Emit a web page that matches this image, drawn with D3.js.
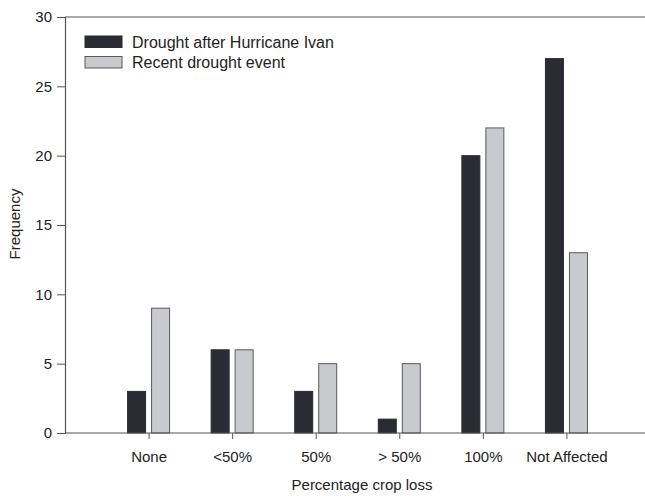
<!DOCTYPE html>
<html>
<head>
<meta charset="utf-8">
<script src="https://cdn.jsdelivr.net/npm/d3@7"></script>
<style>
  html, body { margin: 0; padding: 0; background: #fff; overflow: hidden; }
  svg { display: block; overflow: hidden; }
  text { font-family: "Liberation Sans", Arial, sans-serif; fill: #222; }
</style>
</head>
<body>
<svg id="chart" width="645" height="496"></svg>
<script>
// Crop loss categories and frequencies for the two drought events
const categories = ["None", "<50%", "50%", "> 50%", "100%", "Not Affected"];
const seriesNames = ["Drought after Hurricane Ivan", "Recent drought event"];
const droughtIvan = [3, 6, 3, 1, 20, 27];
const recentDrought = [9, 6, 5, 5, 22, 13];
const yTicks = [0, 5, 10, 15, 20, 25, 30];

const seriesValues = [droughtIvan, recentDrought];
const fills = ["#2b2b33", "#c9cacd"];
const strokes = ["#2b2b33", "#5a5a5a"];

const svg = d3.select("#chart");
const plot = { left: 65, right: 650, top: 17, bottom: 433 };

const x = d3.scalePoint().domain(categories).range([plot.left, plot.right]).padding(1);
const inner = d3.scaleBand().domain(seriesNames).range([-21, 21]).paddingInner(0.25);
const y = d3.scaleLinear().domain([0, 30]).range([plot.bottom, plot.top]);

// Top edge of the plot frame, running off the right side of the view
svg.append("line")
  .attr("x1", plot.left).attr("x2", 700)
  .attr("y1", plot.top).attr("y2", plot.top)
  .attr("stroke", "#555").attr("stroke-width", 1.2);

// Bars
const rows = categories.map((c, i) => ({ cat: c, vals: seriesValues.map((s, k) => ({ k, name: seriesNames[k], v: s[i] })) }));
const groups = svg.append("g").selectAll("g").data(rows).join("g")
  .attr("transform", d => `translate(${x(d.cat)},0)`);
groups.selectAll("rect").data(d => d.vals).join("rect")
  .attr("x", d => inner(d.name))
  .attr("y", d => y(d.v))
  .attr("width", inner.bandwidth())
  .attr("height", d => y(0) - y(d.v))
  .attr("fill", d => fills[d.k])
  .attr("stroke", d => strokes[d.k])
  .attr("stroke-width", 1);

// Y axis
const yAxis = svg.append("g").attr("transform", `translate(${plot.left},0)`)
  .call(d3.axisLeft(y).tickValues(yTicks).tickSize(8).tickPadding(5).tickFormat(d3.format("d")));
yAxis.select(".domain").attr("stroke", "#555").attr("stroke-width", 1.2);
yAxis.selectAll(".tick line").attr("stroke", "#555");
yAxis.selectAll(".tick text").attr("font-size", 15).attr("fill", "#222")
  .style("font-family", '"Liberation Sans", Arial, sans-serif');

// X axis (baseline also runs off the right side)
const xAxis = svg.append("g").attr("transform", `translate(0,${plot.bottom})`)
  .call(d3.axisBottom(x).tickSize(6).tickPadding(12));
xAxis.select(".domain").remove();
xAxis.append("line").attr("x1", plot.left).attr("x2", 700)
  .attr("stroke", "#555").attr("stroke-width", 1.2);
xAxis.selectAll(".tick line").attr("stroke", "#555");
xAxis.selectAll(".tick text").attr("font-size", 15).attr("fill", "#222")
  .style("font-family", '"Liberation Sans", Arial, sans-serif');

// Axis titles
svg.append("text")
  .attr("x", 362).attr("y", 490)
  .attr("text-anchor", "middle").attr("font-size", 15)
  .text("Percentage crop loss");
svg.append("text")
  .attr("transform", "translate(20,224) rotate(-90)")
  .attr("text-anchor", "middle").attr("font-size", 15)
  .text("Frequency");

// Legend
const legend = svg.append("g").attr("transform", "translate(85,36)");
seriesNames.forEach((name, k) => {
  const g = legend.append("g").attr("transform", `translate(0,${k * 20.5})`);
  g.append("rect").attr("width", 37).attr("height", 11.5)
    .attr("fill", fills[k]).attr("stroke", strokes[k]);
  g.append("text").attr("x", 47).attr("y", 11.5).attr("font-size", 16).text(name);
});
</script>
</body>
</html>
